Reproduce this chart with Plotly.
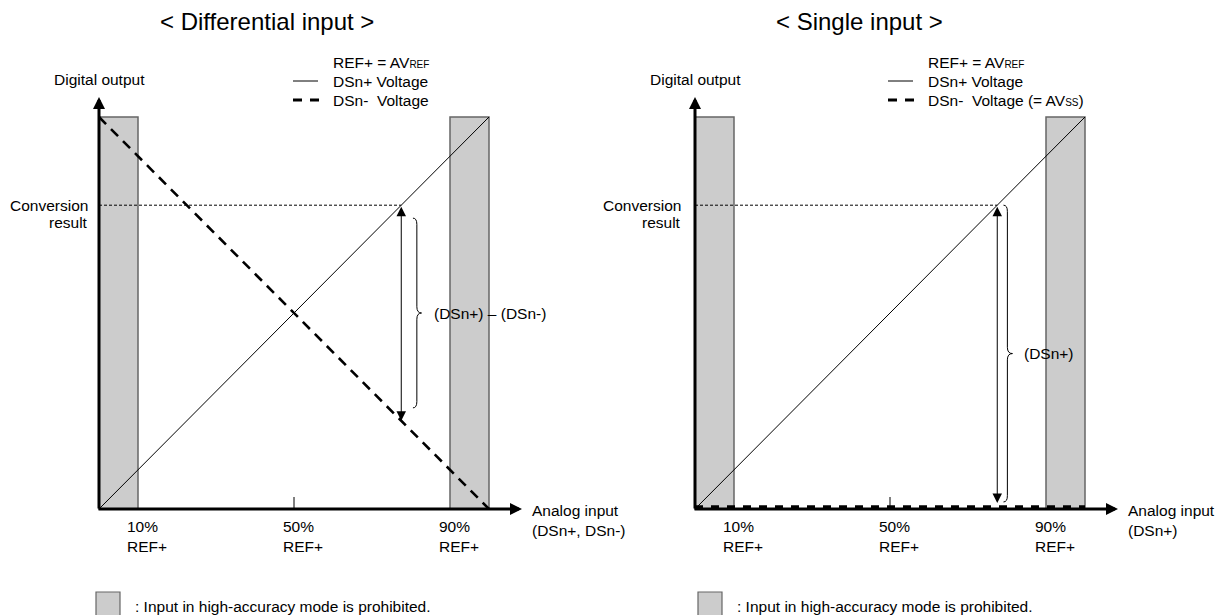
import plotly.graph_objects as go

# ---------------- data ----------------
analog_pct = [0, 100]                 # analog input, % of REF+
dsn_plus = [0, 100]                   # DSn+ voltage (both panels)
dsn_minus_diff = [100, 0]             # DSn- voltage, differential input
dsn_minus_single = [0, 0]             # DSn- voltage (= AVss), single input
prohibited_low = [0, 10]              # prohibited region (%)
prohibited_high = [90, 100]
tick_values = [10, 50, 90]
tick_labels = ["10%<br>REF+", "50%<br>REF+", "90%<br>REF+"]
conversion_result = 77.5              # % of full scale
titles = ["&lt; Differential input &gt;", "&lt; Single input &gt;"]
x_axis_labels = ["Analog input<br>(DSn+, DSn-)", "Analog input<br>(DSn+)"]
diff_labels = ["(DSn+) \u2013 (DSn-)", "(DSn+)"]
legend_minus = ["DSn-\u00a0 Voltage", "DSn-\u00a0 Voltage (= AV<span style='font-size:10px'>SS</span>)"]

# ---------------- layout constants (pixels, page coordinates) ----------------
PAGE_W, PAGE_H = 1219, 615
OFF = 0                               # page body margin is removed below
WF, HF = PAGE_W - OFF, PAGE_H - OFF   # figure size
PXU_X, PXU_Y = 3.9, 3.92              # pixels per % unit
ORIG_X = [99, 695]                    # page x of 0 % for each panel
ORIG_Y = 509                          # page y of 0 %
FONT = "Liberation Sans, Arial, Helvetica, sans-serif"
FS = 15.5
GREY = "#cccccc"
EDGE = "#666666"

fig = go.Figure()


def px(x):
    return (x - OFF) / WF


def py(y):
    return 1 - (y - OFF) / HF


split = WF / 2
layout_axes = {}
for i, ox in enumerate(ORIG_X):
    a, b = (0, split) if i == 0 else (split, WF)
    name = "xaxis" if i == 0 else "xaxis2"
    layout_axes[name] = dict(domain=[a / WF, b / WF],
                             range=[(a + OFF - ox) / PXU_X, (b + OFF - ox) / PXU_X],
                             visible=False, fixedrange=True, anchor="y")
layout_axes["yaxis"] = dict(domain=[0, 1], range=[-(PAGE_H - ORIG_Y) / PXU_Y, (ORIG_Y - OFF) / PXU_Y],
                            visible=False, fixedrange=True)

shapes, annotations = [], []
panels = [("x", dsn_minus_diff), ("x2", dsn_minus_single)]

for i, (xr, minus) in enumerate(panels):
    # prohibited regions
    for reg in (prohibited_low, prohibited_high):
        shapes.append(dict(type="rect", xref=xr, yref="y", x0=reg[0], x1=reg[1], y0=0, y1=100,
                           fillcolor=GREY, line=dict(color=EDGE, width=1.5), layer="below"))
    # DSn+ line
    fig.add_trace(go.Scatter(x=analog_pct, y=dsn_plus, mode="lines", xaxis=xr, yaxis="y",
                             line=dict(color="black", width=1), showlegend=False, hoverinfo="skip"))
    # DSn- line
    off = 0 if i == 0 else 2.2 / PXU_Y
    fig.add_trace(go.Scatter(x=analog_pct, y=[v + off for v in minus], mode="lines", xaxis=xr, yaxis="y",
                             line=dict(color="black", width=2.6 if i == 0 else 3,
                                       dash="10px,7px" if i == 0 else "8px,8px"),
                             showlegend=False, hoverinfo="skip"))
    # conversion result dotted line
    fig.add_trace(go.Scatter(x=[0, conversion_result], y=[conversion_result, conversion_result], mode="lines",
                             xaxis=xr, yaxis="y", line=dict(color="black", width=1, dash="3px,2px"),
                             showlegend=False, hoverinfo="skip"))
    # 50% tick
    fig.add_trace(go.Scatter(x=[tick_values[1], tick_values[1]], y=[0, 12 / PXU_Y], mode="lines",
                             xaxis=xr, yaxis="y", line=dict(color="black", width=1),
                             showlegend=False, hoverinfo="skip"))
    # axes with arrowheads
    annotations.append(dict(xref=xr, yref="y", axref=xr, ayref="y", x=0, y=(ORIG_Y - 97) / PXU_Y,
                            ax=0, ay=-1 / PXU_Y, text="", showarrow=True, arrowhead=2, arrowsize=0.8,
                            arrowwidth=3, arrowcolor="black"))
    annotations.append(dict(xref=xr, yref="y", axref=xr, ayref="y", x=423 / PXU_X, y=0,
                            ax=-2 / PXU_X, ay=0, text="", showarrow=True, arrowhead=2, arrowsize=0.8,
                            arrowwidth=3, arrowcolor="black"))
    # double-headed arrow showing conversion value
    x_at = conversion_result
    bottom = minus[0] + (minus[1] - minus[0]) * x_at / 100
    if i == 1:
        bottom += 1.5
    annotations.append(dict(xref=xr, yref="y", axref=xr, ayref="y", x=x_at, y=bottom, ax=x_at,
                            ay=conversion_result, text="", showarrow=True, arrowhead=2, arrowsize=1.9,
                            startarrowhead=2, startarrowsize=1.9, arrowside="end+start",
                            arrowwidth=1, arrowcolor="black"))
    # brace
    if i == 0:
        bx, btip, btop, bbot = x_at + 4.0, x_at + 5.2, conversion_result - 3.3, bottom + 3.3
    else:
        bx, btip, btop, bbot = x_at + 2.6, x_at + 3.9, conversion_result, bottom + 0.3
    hook, c = 1.0, 1.6
    mid = (btop + bbot) / 2
    path = (f"M {bx - hook},{btop} Q {bx},{btop} {bx},{btop - c} L {bx},{mid + c} "
            f"Q {bx},{mid} {btip},{mid} Q {bx},{mid} {bx},{mid - c} L {bx},{bbot + c} "
            f"Q {bx},{bbot} {bx - hook},{bbot}")
    shapes.append(dict(type="path", xref=xr, yref="y", path=path, line=dict(color="black", width=1)))
    annotations.append(dict(xref=xr, yref="y", x=btip, y=mid, xshift=10, text=diff_labels[i],
                            showarrow=False, xanchor="left", yanchor="middle",
                            font=dict(size=FS, color="black", family=FONT)))
    # tick labels
    for tv, tl in zip(tick_values, tick_labels):
        annotations.append(dict(xref=xr, yref="y", x=tv, y=-27.5 / PXU_Y, xshift=-13, text=tl,
                                showarrow=False, xanchor="left", yanchor="middle", align="left",
                                font=dict(size=FS, color="black", family=FONT)))
    # axis titles
    annotations.append(dict(xref=xr, yref="y", x=431 / PXU_X, y=-11 / PXU_Y, text=x_axis_labels[i],
                            showarrow=False, xanchor="left", yanchor="middle", align="left",
                            font=dict(size=FS, color="black", family=FONT)))
    annotations.append(dict(xref=xr, yref="y", x=0, y=(ORIG_Y - 79) / PXU_Y, text="Digital output",
                            showarrow=False, xanchor="center", yanchor="middle",
                            font=dict(size=FS, color="black", family=FONT)))
    cx = -9 / PXU_X if i == 0 else -12 / PXU_X
    annotations.append(dict(xref=xr, yref="y", x=cx, y=conversion_result, text="Conversion",
                            showarrow=False, xanchor="right", yanchor="middle",
                            font=dict(size=FS, color="black", family=FONT)))
    annotations.append(dict(xref=xr, yref="y", x=cx, y=conversion_result, yshift=-17.5, text="result",
                            showarrow=False, xanchor="right", yanchor="middle",
                            font=dict(size=FS, color="black", family=FONT)))

# titles
for tx, t in zip([267, 859], titles):
    annotations.append(dict(xref="paper", yref="paper", x=px(tx), y=py(22), text=t, showarrow=False,
                            xanchor="center", yanchor="middle", font=dict(size=24, color="black", family=FONT)))

# top legends
for lx, tx, ry, minus_txt in [(293, 331, 0, legend_minus[0]), (888, 926, -1, legend_minus[1])]:
    rows = ["REF+ = AV<span style='font-size:10px'>REF</span>", "DSn+ Voltage", minus_txt]
    for yy, t in zip([63 + ry, 81, 100 + (1 if ry else 0)], rows):
        annotations.append(dict(xref="paper", yref="paper", x=px(tx), y=py(yy), text=t, showarrow=False,
                                xanchor="left", yanchor="middle", font=dict(size=FS, color="black", family=FONT)))
    shapes.append(dict(type="line", xref="paper", yref="paper", x0=px(lx), x1=px(lx + 25), y0=py(81), y1=py(81),
                       line=dict(color="black", width=1)))
    shapes.append(dict(type="line", xref="paper", yref="paper", x0=px(lx), x1=px(lx + 26), y0=py(100), y1=py(100),
                       line=dict(color="black", width=3, dash="9px,8px")))

# bottom legends
for sx in [96, 698]:
    shapes.append(dict(type="rect", xref="paper", yref="paper", x0=px(sx), x1=px(sx + 24), y0=py(618), y1=py(592),
                       fillcolor=GREY, line=dict(color=EDGE, width=1.2)))
    annotations.append(dict(xref="paper", yref="paper", x=px(sx + 37), y=py(606),
                            text=": Input in high-accuracy mode is prohibited.", showarrow=False,
                            xanchor="left", yanchor="middle", font=dict(size=FS, color="black", family=FONT)))

fig.update_layout(width=WF, height=HF, autosize=False, margin=dict(l=0, r=0, t=0, b=0),
                  paper_bgcolor="white", plot_bgcolor="white", showlegend=False,
                  shapes=shapes, annotations=annotations, **layout_axes)

fig.write_html("out.html", config={"displayModeBar": False},
               post_script="document.body.style.margin='0';document.body.style.overflow='hidden';")
